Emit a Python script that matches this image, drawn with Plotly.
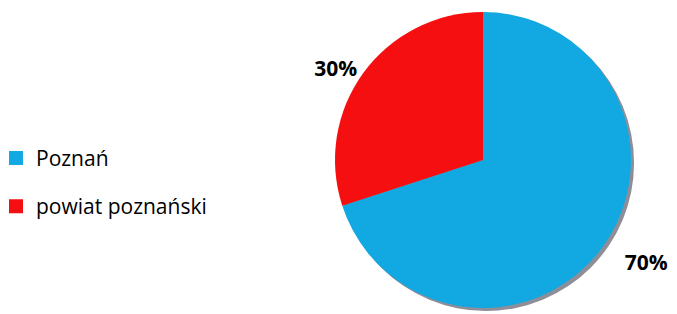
import plotly.graph_objects as go

labels = ["Poznań", "powiat poznański"]
values = [70, 30]
colors = ["#12A8E2", "#F50F10"]

fig = go.Figure()
# soft shadow behind the pie
fig.add_trace(go.Pie(
    values=[1], labels=["shadow"], sort=False, textinfo="none", hoverinfo="skip",
    marker=dict(colors=["rgba(30,30,50,0.5)"], line=dict(width=0)),
    domain=dict(x=[0.4874, 0.9247], y=[0.035, 0.9777]),
    showlegend=False,
))
# the pie itself
fig.add_trace(go.Pie(
    labels=labels, values=values, sort=False, direction="clockwise", rotation=0,
    marker=dict(colors=colors, line=dict(width=0)),
    textinfo="none",
    domain=dict(x=[0.483, 0.9202], y=[0.0446, 0.9873]),
    showlegend=False,
))
# percentage labels (transparent overlay carrying the outside text)
fig.add_trace(go.Pie(
    labels=labels, values=values, sort=False, direction="clockwise", rotation=0,
    marker=dict(colors=["rgba(0,0,0,0)"] * len(values), line=dict(width=0)),
    textposition="outside", texttemplate="<b>%{percent:.0%}</b>",
    textfont=dict(family="Open Sans", size=21, color="black"),
    domain=dict(x=[0.482, 0.945], y=[0.0, 1.0]),
    showlegend=False, hoverinfo="skip",
))
for i, (lab, col) in enumerate(zip(labels, colors)):
    fig.add_trace(go.Scatter(
        x=[None], y=[None], mode="markers", name=lab, legendgroup=str(i),
        marker=dict(symbol="square", size=14, color=col),
    ))
fig.update_layout(
    width=677, height=314, margin=dict(l=0, r=0, t=0, b=0, autoexpand=False),
    paper_bgcolor="white", plot_bgcolor="white",
    xaxis=dict(visible=False), yaxis=dict(visible=False),
    legend=dict(x=0, y=0.445, xanchor="left", yanchor="middle", tracegroupgap=18,
                indentation=-12,
                font=dict(family="Open Sans", size=21, color="black"), itemwidth=30),
)
fig.write_html("out.html")
